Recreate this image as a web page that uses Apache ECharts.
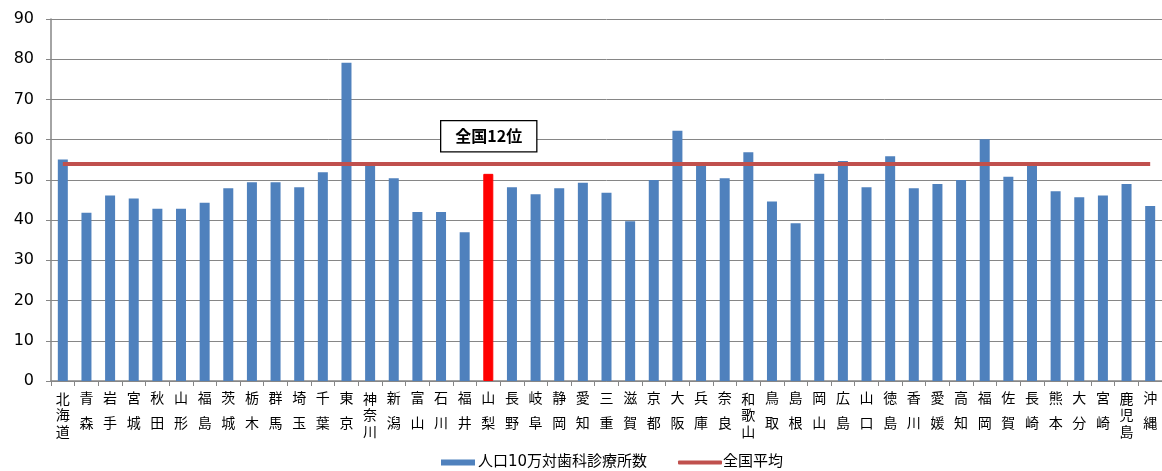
<!DOCTYPE html>
<html>
<head>
<meta charset="utf-8">
<script src="https://cdn.jsdelivr.net/npm/echarts@6/dist/echarts.min.js"></script>
<style>
  html, body { margin: 0; padding: 0; background: #ffffff; }
  #chart { width: 1162px; height: 471px; }
</style>
</head>
<body>
<div id="chart"></div>
<script>
const prefectures = ['北海道','青森','岩手','宮城','秋田','山形','福島','茨城','栃木','群馬','埼玉','千葉','東京','神奈川','新潟','富山','石川','福井','山梨','長野','岐阜','静岡','愛知','三重','滋賀','京都','大阪','兵庫','奈良','和歌山','鳥取','島根','岡山','広島','山口','徳島','香川','愛媛','高知','福岡','佐賀','長崎','熊本','大分','宮崎','鹿児島','沖縄'];
const clinicsPer100k = [55.1,41.8,46.1,45.4,42.8,42.8,44.3,47.9,49.4,49.4,48.2,51.9,79.1,53.7,50.4,42.0,42.0,37.0,51.5,48.2,46.4,47.9,49.3,46.8,39.7,50.0,62.2,53.6,50.4,56.9,44.6,39.2,51.5,54.7,48.2,55.9,47.9,49.0,50.0,60.1,50.8,53.6,47.2,45.7,46.1,49.0,43.5];
const nationalAverage = 53.9;
const highlightPrefecture = '山梨';
const yTicks = { min: 0, max: 90, interval: 10 };
const seriesNames = ['人口10万対歯科診療所数', '全国平均'];
const rankLabel = '全国12位';

const BLUE = '#4F81BD';
const RED_LINE = '#C0504D';
const AXIS_GRAY = '#868686';
const LATIN = "'DejaVu Sans', 'Noto Sans CJK JP', sans-serif";
const CJK = "'Noto Sans CJK JP', sans-serif";

const barData = clinicsPer100k.map((v, i) => {
  if (prefectures[i] === highlightPrefecture) {
    return { value: v, itemStyle: { color: '#FF0000', borderColor: '#FF0000', borderWidth: 1 } };
  }
  return v;
});

const chart = echarts.init(document.getElementById('chart'), null, { renderer: 'canvas' });
chart.setOption({
  animation: false,
  backgroundColor: '#ffffff',
  grid: { left: 51, right: 0, top: 19, bottom: 90, containLabel: false },
  graphic: [{
    type: 'text',
    left: 440,
    top: 120,
    z: 100,
    style: {
      text: rankLabel,
      font: "bold 16px " + CJK,
      fill: '#000',
      backgroundColor: '#fff',
      borderColor: '#000',
      borderWidth: 1.3,
      padding: [7, 14, 7, 14]
    }
  }],
  legend: [{
    data: [{ name: seriesNames[0], icon: 'rect' }],
    left: 436, top: 450,
    itemWidth: 34, itemHeight: 6,
    textStyle: { fontSize: 15, fontFamily: LATIN, color: '#000', padding: [0, 0, 0, -2] },
    selectedMode: false
  }, {
    data: [{ name: seriesNames[1], icon: 'roundRect' }],
    left: 673, top: 450,
    itemWidth: 44, itemHeight: 4,
    textStyle: { fontSize: 15, fontFamily: LATIN, color: '#000', padding: [0, 0, 0, -4] },
    selectedMode: false
  }],
  xAxis: {
    type: 'category',
    data: prefectures,
    boundaryGap: true,
    axisLine: { lineStyle: { color: AXIS_GRAY, width: 1.5 } },
    axisTick: { show: true, length: 5, lineStyle: { color: AXIS_GRAY } },
    axisLabel: {
      interval: 0,
      margin: 4,
      formatter: function (name) {
        const chars = name.split('');
        if (chars.length >= 3) {
          return chars.map((c, i) => (i === 0 ? '{b0|' : '{b|') + c + '}').join('\n');
        }
        return chars.map(c => '{a|' + c + '}').join('\n');
      },
      rich: {
        a: { fontSize: 14, lineHeight: 25, fontFamily: CJK, color: '#000' },
        b0: { fontSize: 14, lineHeight: 21, verticalAlign: 'bottom', fontFamily: CJK, color: '#000' },
        b: { fontSize: 14, lineHeight: 17, fontFamily: CJK, color: '#000' }
      }
    }
  },
  yAxis: {
    type: 'value',
    min: yTicks.min, max: yTicks.max, interval: yTicks.interval,
    axisLine: { show: true, lineStyle: { color: AXIS_GRAY, width: 1.5 } },
    axisTick: { show: true, length: 5, lineStyle: { color: AXIS_GRAY } },
    axisLabel: { fontSize: 16, fontFamily: LATIN, color: '#000', margin: 17 },
    splitLine: { show: true, lineStyle: { color: AXIS_GRAY, width: 1 } }
  },
  series: [{
    name: seriesNames[0],
    type: 'bar',
    data: barData,
    barWidth: 10,
    itemStyle: { color: BLUE },
    z: 2
  }, {
    name: seriesNames[1],
    type: 'line',
    data: [],
    itemStyle: { color: RED_LINE },
    lineStyle: { color: RED_LINE, width: 4 },
    z: 3,
    markLine: {
      silent: true,
      symbol: 'none',
      label: { show: false },
      lineStyle: { color: RED_LINE, width: 4, type: 'solid' },
      data: [[
        { coord: [prefectures[0], nationalAverage] },
        { coord: [prefectures[prefectures.length - 1], nationalAverage] }
      ]]
    }
  }]
});
</script>
</body>
</html>
